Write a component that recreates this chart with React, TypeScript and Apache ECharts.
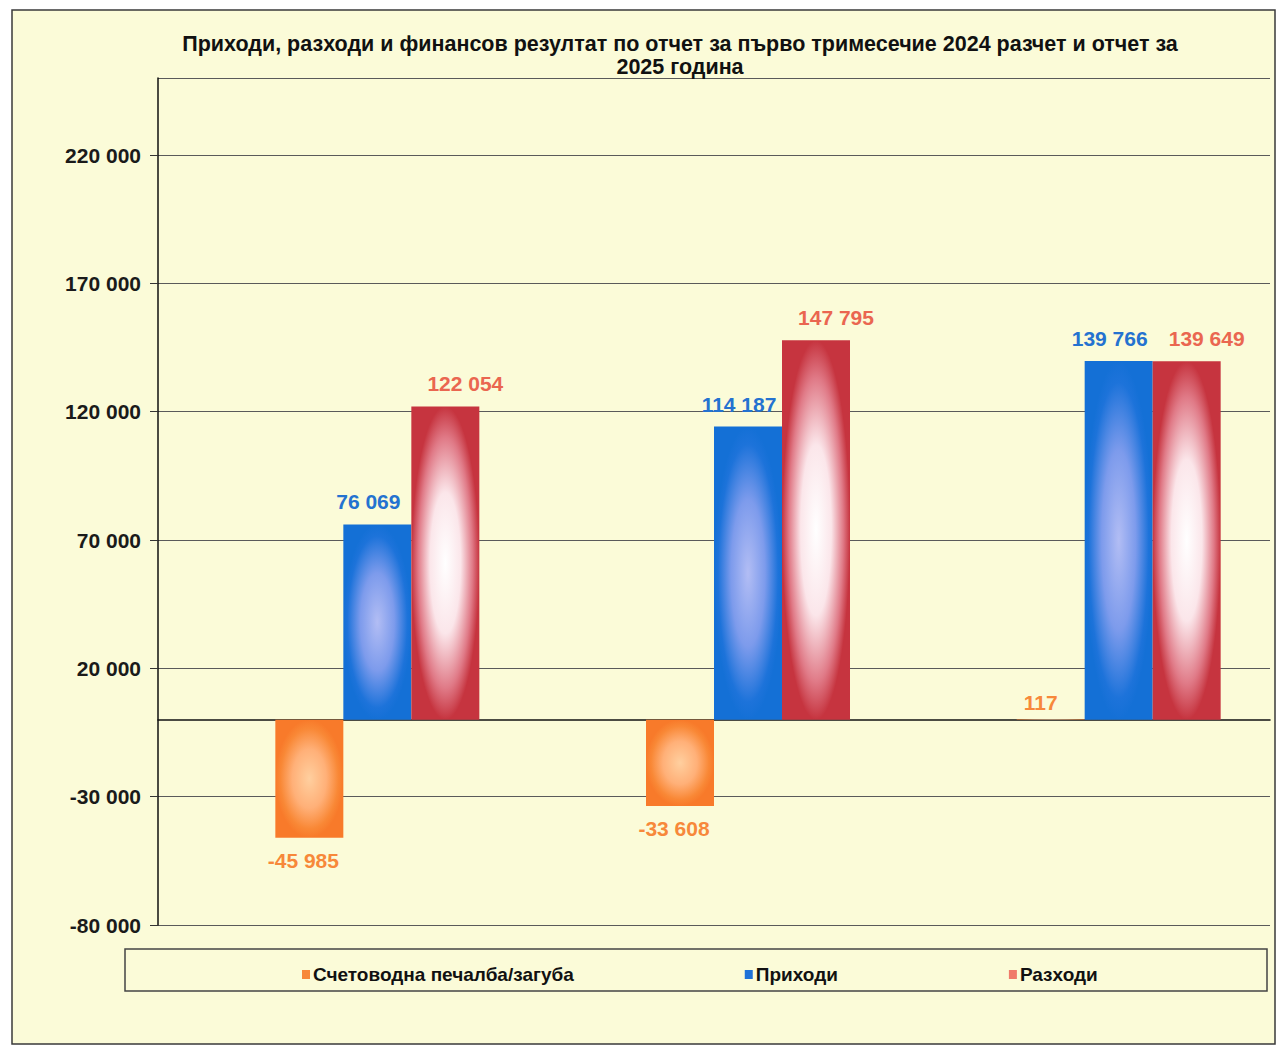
import React, { useEffect, useRef } from "react";
import * as echarts from "echarts";

const categories = ["Отчет 2024", "Разчет 2025", "Отчет 2025"];
const seriesNames = ["Счетоводна печалба/загуба", "Приходи", "Разходи"];
const profit = [-45985, -33608, 117];
const income = [76069, 114187, 139766];
const expense = [122054, 147795, 139649];
const yMin = -80000;
const yMax = 250000;
const yInterval = 50000;
const titleText =
  "Приходи, разходи и финансов резултат по отчет за първо тримесечие 2024 разчет и отчет за\n2025 година";

const fmt = (v: number) => {
  const s = Math.abs(Math.round(v)).toString().replace(/\B(?=(\d{3})+(?!\d))/g, " ");
  return (v < 0 ? "-" : "") + s;
};

const FONT = '"Liberation Sans", Arial, sans-serif';
const BG = "#fbfbd8";

export default function App() {
  const ref = useRef<HTMLDivElement>(null);
  useEffect(() => {
    document.body.style.margin = "0";
    if (!ref.current) return;
    const chart = echarts.init(ref.current, undefined, { renderer: "svg" });
    const radial = (stops: [number, string][]) => ({
      type: "radial",
      x: 0.5,
      y: 0.5,
      r: 0.5,
      colorStops: stops.map(([offset, color]) => ({ offset, color })),
    });
    const orangeFill = radial([
      [0, "#ffcf9f"],
      [0.5, "#ffb078"],
      [0.85, "#f98836"],
      [1, "#f87a2a"],
    ]);
    const blueFill = radial([
      [0, "#b2bdf4"],
      [0.5, "#7d9bec"],
      [0.88, "#1d73da"],
      [1, "#1470d6"],
    ]);
    const redFill = radial([
      [0, "#ffffff"],
      [0.45, "#fbe6ea"],
      [0.8, "#e07a87"],
      [1, "#c6343f"],
    ]);
    const labelBase = {
      show: true,
      fontFamily: FONT,
      fontWeight: "bold",
      fontSize: 21,
      formatter: (p: any) => fmt(p.value),
    };
    chart.setOption({
      animation: false,
      backgroundColor: "#ffffff",
      textStyle: { fontFamily: FONT },
      graphic: [
        {
          type: "rect",
          z: -10,
          shape: { x: 12, y: 10, width: 1263, height: 1034 },
          style: { fill: BG, stroke: "#3a3a3a", lineWidth: 1.5 },
        },
        {
          type: "rect",
          z: -5,
          shape: { x: 125, y: 949, width: 1142, height: 42 },
          style: { fill: BG, stroke: "#444", lineWidth: 1.5 },
        },
        {
          type: "text",
          z: 10,
          x: 680,
          y: 32,
          style: {
            text: titleText,
            textAlign: "center",
            textVerticalAlign: "top",
            fontFamily: FONT,
            fontWeight: "bold",
            fontSize: 21.5,
            lineHeight: 23,
            fill: "#111",
          },
        },
      ],
      legend: {
        data: [
          { name: seriesNames[0], itemStyle: { color: "#f7883a" } },
          { name: seriesNames[1], itemStyle: { color: "#1f72d8" } },
          { name: seriesNames[2], itemStyle: { color: "#f07a6a" } },
        ],
        left: 297,
        top: 960,
        itemWidth: 8,
        itemHeight: 9,
        itemGap: 171,
        icon: "rect",
        selectedMode: false,
        textStyle: { fontFamily: FONT, fontWeight: "bold", fontSize: 19, color: "#111", padding: [0, 0, 0, -2] },
      },
      grid: { left: 158, right: 10, top: 78, bottom: 122, containLabel: false },
      xAxis: {
        type: "category",
        data: categories,
        axisLine: { show: true, onZero: true, lineStyle: { color: "#111", width: 1.5 } },
        axisTick: { show: false },
        axisLabel: { show: false },
        splitLine: { show: false },
      },
      yAxis: {
        type: "value",
        min: yMin,
        max: yMax,
        interval: yInterval,
        axisLine: { show: true, lineStyle: { color: "#111", width: 1.5 } },
        axisTick: { show: true, length: 8, lineStyle: { color: "#333" } },
        axisLabel: {
          showMaxLabel: false,
          margin: 17,
          fontFamily: FONT,
          fontWeight: "bold",
          fontSize: 21,
          color: "#1a1a1a",
          formatter: (v: number) => fmt(v),
        },
        splitLine: { show: true, lineStyle: { color: "#5a5a5a", width: 1 } },
      },
      series: [
        {
          type: "bar",
          name: "",
          data: categories.map(() => "-"),
          barWidth: 68,
          barGap: "0%",
        },
        {
          type: "bar",
          name: seriesNames[0],
          barWidth: 68,
          barGap: "0%",
          itemStyle: { color: orangeFill },
          data: profit.map((v) => ({
            value: v,
            label:
              v < 0
                ? { position: "bottom", distance: 12, offset: [-6, 0] }
                : { position: "top", distance: 6, offset: [-10, 0] },
          })),
          label: { ...labelBase, color: "#f7883a" },
        },
        {
          type: "bar",
          name: seriesNames[1],
          barWidth: 68,
          barGap: "0%",
          itemStyle: { color: blueFill },
          data: income,
          label: { ...labelBase, position: "top", distance: 12, offset: [-9, 0], color: "#2472d0" },
        },
        {
          type: "bar",
          name: seriesNames[2],
          barWidth: 68,
          barGap: "0%",
          itemStyle: { color: redFill },
          data: expense,
          label: { ...labelBase, position: "top", distance: 12, offset: [20, 0], color: "#ea6650" },
        },
      ],
    });
    return () => chart.dispose();
  }, []);
  return <div ref={ref} style={{ width: 1280, height: 1047 }} />;
}
